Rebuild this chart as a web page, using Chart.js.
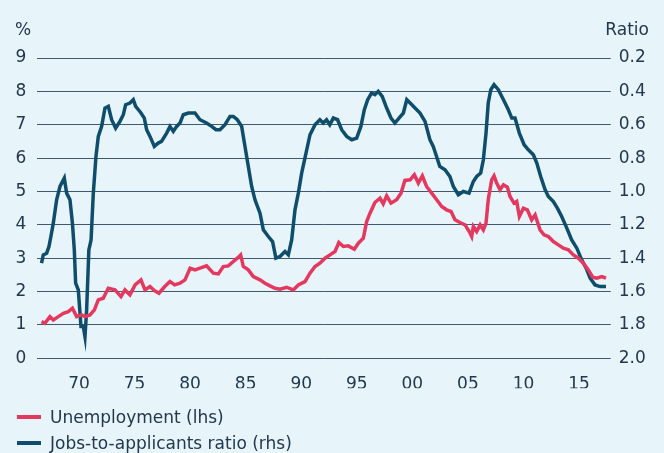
<!DOCTYPE html>
<html>
<head>
<meta charset="utf-8">
<script src="https://cdn.jsdelivr.net/npm/chart.js@4"></script>
<style>
  html, body { margin: 0; padding: 0; background: #e7f4f9; }
  #wrap { position: relative; width: 664px; height: 453px; font-family: 'DejaVu Sans', sans-serif; color: #22384f; }
  #myChart { position: absolute; left: 0; top: 0; }
  .axis-title { position: absolute; top: 19px; font-size: 17px; }
  .legend { position: absolute; left: 17px; font-size: 17px; line-height: 20px; }
  .legend span.swatch { display: inline-block; width: 24px; height: 4px; vertical-align: middle; margin-right: 9px; position: relative; top: -1px; }
</style>
</head>
<body>
<div id="wrap">
  <canvas id="myChart" width="664" height="453"></canvas>
  <div class="axis-title" style="left:15px">%</div>
  <div class="axis-title" style="right:15px">Ratio</div>
  <div class="legend" style="top:407px"><span class="swatch" style="background:#e4385e"></span>Unemployment (lhs)</div>
  <div class="legend" style="top:433px"><span class="swatch" style="background:#0e4d6c"></span>Jobs-to-applicants ratio (rhs)</div>
</div>
<script>
// unemployment rate, %, left axis
const unempDates = [1966.63, 1966.93, 1967.39, 1967.69, 1968.14, 1968.6, 1969.04, 1969.41, 1969.79, 1970.24,
  1970.54, 1970.99, 1971.39, 1971.74, 1972.18, 1972.64, 1973.24, 1973.78, 1974.14, 1974.59,
  1975.05, 1975.58, 1975.94, 1976.39, 1976.78, 1977.2, 1977.72, 1978.19, 1978.61, 1979.09,
  1979.54, 1980.0, 1980.44, 1980.89, 1981.48, 1982.09, 1982.54, 1982.99, 1983.44, 1983.89,
  1984.25, 1984.55, 1984.79, 1985.24, 1985.69, 1986.29, 1986.74, 1987.19, 1987.64, 1988.09,
  1988.69, 1989.28, 1989.74, 1990.34, 1990.79, 1991.24, 1991.68, 1992.14, 1992.59, 1993.04,
  1993.39, 1993.79, 1994.24, 1994.78, 1995.14, 1995.59, 1995.89, 1996.19, 1996.63, 1997.09,
  1997.38, 1997.69, 1998.08, 1998.58, 1998.98, 1999.33, 1999.8, 2000.18, 2000.54, 2000.9,
  2001.28, 2001.74, 2002.19, 2002.64, 2003.08, 2003.48, 2003.84, 2004.28, 2004.74, 2005.2,
  2005.34, 2005.49, 2005.79, 2006.1, 2006.39, 2006.63, 2006.83, 2007.14, 2007.35, 2007.59,
  2007.89, 2008.2, 2008.55, 2008.79, 2009.15, 2009.39, 2009.63, 2010.0, 2010.35, 2010.74,
  2011.05, 2011.49, 2011.85, 2012.24, 2012.69, 2013.14, 2013.59, 2014.04, 2014.49, 2014.95,
  2015.39, 2015.84, 2016.23, 2016.59, 2017.05, 2017.43];
const unempValues = [1.1, 1.05, 1.25, 1.15, 1.25, 1.35, 1.4, 1.5, 1.25, 1.3,
  1.25, 1.3, 1.45, 1.75, 1.8, 2.1, 2.05, 1.85, 2.05, 1.9,
  2.2, 2.35, 2.05, 2.15, 2.03, 1.95, 2.15, 2.3, 2.2, 2.25,
  2.35, 2.7, 2.65, 2.7, 2.77, 2.55, 2.53, 2.75, 2.77, 2.9,
  3.0, 3.1, 2.75, 2.65, 2.45, 2.35, 2.25, 2.17, 2.1, 2.07,
  2.13, 2.05, 2.2, 2.3, 2.55, 2.75, 2.85, 3.0, 3.1, 3.2,
  3.47, 3.35, 3.37, 3.27, 3.45, 3.6, 4.1, 4.35, 4.67, 4.8,
  4.63, 4.87, 4.65, 4.75, 4.95, 5.33, 5.35, 5.5, 5.25, 5.47,
  5.15, 4.95, 4.75, 4.55, 4.45, 4.4, 4.15, 4.07, 4.0, 3.75,
  3.65, 3.95, 3.8, 4.0, 3.85, 4.05, 4.75, 5.35, 5.47, 5.25,
  5.05, 5.2, 5.13, 4.85, 4.65, 4.7, 4.25, 4.5, 4.45, 4.15,
  4.3, 3.85, 3.7, 3.65, 3.5, 3.4, 3.3, 3.25, 3.1, 3.0,
  2.85, 2.65, 2.43, 2.4, 2.45, 2.4];

// jobs-to-applicants ratio, right axis (inverted)
const ratioDates = [1966.63, 1966.79, 1967.09, 1967.3, 1967.53, 1967.69, 1967.99, 1968.29, 1968.68, 1968.89,
  1969.19, 1969.41, 1969.58, 1969.7, 1969.94, 1970.18, 1970.39, 1970.54, 1970.69, 1970.89,
  1971.09, 1971.29, 1971.53, 1971.74, 1972.04, 1972.34, 1972.64, 1972.94, 1973.3, 1973.69,
  1973.99, 1974.2, 1974.59, 1974.89, 1975.1, 1975.35, 1975.58, 1975.88, 1976.09, 1976.39,
  1976.78, 1977.13, 1977.43, 1977.89, 1978.19, 1978.49, 1978.79, 1979.09, 1979.39, 1979.84,
  1980.44, 1980.89, 1981.48, 1981.94, 1982.33, 1982.69, 1983.14, 1983.59, 1983.89, 1984.25,
  1984.64, 1984.94, 1985.24, 1985.54, 1985.84, 1986.29, 1986.59, 1987.04, 1987.42, 1987.72,
  1988.09, 1988.54, 1988.84, 1989.14, 1989.44, 1989.74, 1990.04, 1990.43, 1990.79, 1991.24,
  1991.68, 1991.98, 1992.28, 1992.57, 1992.89, 1993.27, 1993.64, 1994.09, 1994.55, 1994.99,
  1995.37, 1995.68, 1995.98, 1996.33, 1996.63, 1996.93, 1997.29, 1997.69, 1998.08, 1998.43,
  1998.8, 1999.19, 1999.5, 1999.8, 2000.24, 2000.69, 2001.14, 2001.58, 2001.88, 2002.18,
  2002.47, 2002.94, 2003.38, 2003.69, 2004.14, 2004.59, 2005.1, 2005.49, 2005.79, 2006.15,
  2006.39, 2006.63, 2006.83, 2007.06, 2007.35, 2007.74, 2008.2, 2008.64, 2008.95, 2009.24,
  2009.63, 2010.06, 2010.44, 2010.89, 2011.2, 2011.55, 2011.95, 2012.24, 2012.69, 2013.05,
  2013.44, 2013.9, 2014.34, 2014.8, 2015.24, 2015.64, 2016.0, 2016.44, 2016.9, 2017.43];
const ratioValues = [1.43, 1.38, 1.37, 1.33, 1.25, 1.19, 1.05, 0.97, 0.92, 1.01,
  1.05, 1.19, 1.35, 1.55, 1.59, 1.81, 1.81, 1.87, 1.71, 1.35,
  1.29, 1.01, 0.79, 0.67, 0.61, 0.50, 0.49, 0.57, 0.62, 0.58,
  0.54, 0.48, 0.47, 0.45, 0.49, 0.51, 0.53, 0.56, 0.63, 0.67,
  0.73, 0.71, 0.70, 0.65, 0.61, 0.64, 0.61, 0.59, 0.54, 0.53,
  0.53, 0.57, 0.59, 0.61, 0.63, 0.63, 0.60, 0.55, 0.55, 0.57,
  0.61, 0.73, 0.85, 0.97, 1.05, 1.13, 1.23, 1.27, 1.30, 1.40,
  1.39, 1.36, 1.38, 1.29, 1.11, 1.01, 0.89, 0.77, 0.66, 0.60,
  0.57, 0.59, 0.57, 0.60, 0.56, 0.57, 0.63, 0.67, 0.69, 0.68,
  0.61, 0.51, 0.45, 0.41, 0.42, 0.40, 0.43, 0.50, 0.56, 0.59,
  0.56, 0.53, 0.45, 0.47, 0.50, 0.53, 0.58, 0.69, 0.73, 0.79,
  0.85, 0.87, 0.91, 0.97, 1.02, 1.00, 1.01, 0.94, 0.91, 0.89,
  0.81, 0.65, 0.47, 0.39, 0.36, 0.39, 0.45, 0.51, 0.56, 0.56,
  0.65, 0.72, 0.75, 0.78, 0.83, 0.91, 0.99, 1.03, 1.06, 1.10,
  1.15, 1.22, 1.29, 1.34, 1.41, 1.46, 1.52, 1.56, 1.57, 1.57];

const yearTicks = [1970, 1975, 1980, 1985, 1990, 1995, 2000, 2005, 2010, 2015];

const toPoints = (xs, ys) => xs.map((x, i) => ({ x: x, y: ys[i] }));

Chart.defaults.font.family = "'DejaVu Sans', sans-serif";
Chart.defaults.font.size = 17;
Chart.defaults.color = '#22384f';

const ctx = document.getElementById('myChart').getContext('2d');

new Chart(ctx, {
  type: 'line',
  data: {
    datasets: [
      {
        label: 'Unemployment (lhs)',
        data: toPoints(unempDates, unempValues),
        borderColor: '#e4385e',
        borderWidth: 3.5,
        pointRadius: 0,
        yAxisID: 'y'
      },
      {
        label: 'Jobs-to-applicants ratio (rhs)',
        data: toPoints(ratioDates, ratioValues),
        borderColor: '#0e4d6c',
        borderWidth: 3.5,
        pointRadius: 0,
        yAxisID: 'y1'
      }
    ]
  },
  options: {
    responsive: false,
    animation: false,
    layout: { padding: { top: 58, bottom: 64.7, left: 0, right: 0 } },
    plugins: {
      legend: { display: false },
      tooltip: { enabled: false }
    },
    scales: {
      x: {
        type: 'linear',
        min: 1966.25,
        max: 2017.85,
        afterBuildTicks: function (scale) {
          scale.ticks = yearTicks.map(v => ({ value: v }));
        },
        afterFit: function (scale) { scale.height = 30; },
        grid: { display: false },
        border: { display: false },
        ticks: {
          padding: 8,
          maxRotation: 0,
          autoSkip: false,
          callback: v => String(v).slice(2)
        }
      },
      y: {
        position: 'left',
        min: 0,
        max: 9,
        afterFit: function (scale) { scale.width = 37.3; },
        grid: { color: '#3f5a70', lineWidth: 1, drawTicks: false },
        border: { display: false },
        ticks: { stepSize: 1, padding: 11 }
      },
      y1: {
        position: 'right',
        min: 0.2,
        max: 2.0,
        reverse: true,
        afterFit: function (scale) { scale.width = 53.3; },
        grid: { drawOnChartArea: false, drawTicks: false },
        border: { display: false },
        ticks: {
          stepSize: 0.2,
          padding: 8,
          callback: v => Number(v).toFixed(1)
        }
      }
    }
  }
});
</script>
</body>
</html>
